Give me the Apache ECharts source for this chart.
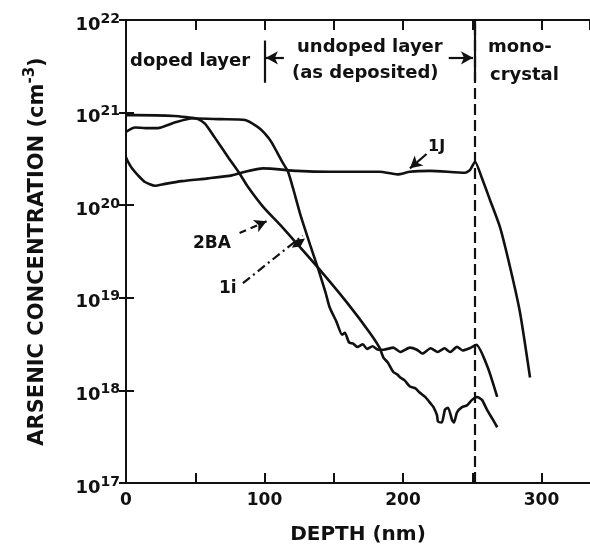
<!DOCTYPE html>
<html>
<head>
<meta charset="utf-8">
<script src="https://cdn.jsdelivr.net/npm/echarts@6/dist/echarts.min.js"></script>
<style>
  html, body { margin: 0; padding: 0; background: #fff; }
  #chart { width: 590px; height: 552px; }
</style>
</head>
<body>
<div id="chart"></div>
<script>
// depth (nm) / arsenic concentration (cm^-3)
var depth1J = [0, 1.4, 4.3, 8.7, 13.7, 20.9, 28.2, 40.4, 59.2, 76.5, 85.9, 98.9, 123.5, 147.3, 171, 183, 196, 205, 219.5, 244.8, 248.4, 252, 257, 262.8, 270, 277.3, 284.5, 291.7];
var conc1J = [3.3e20, 2.95e20, 2.5e20, 2.1e20, 1.78e20, 1.62e20, 1.7e20, 1.82e20, 1.95e20, 2.1e20, 2.3e20, 2.5e20, 2.35e20, 2.3e20, 2.3e20, 2.3e20, 2.15e20, 2.3e20, 2.35e20, 2.24e20, 2.4e20, 2.95e20, 1.95e20, 1.14e20, 5.8e19, 2.14e19, 6.9e18, 1.38e18];

var depth2BA = [0, 6.5, 14, 23, 35, 48, 52, 57, 64, 74, 82, 88, 99, 111, 123, 140, 160, 176, 183, 186, 189, 193, 196, 198, 201, 205, 209, 212, 216, 220, 222, 224.5, 225.3, 228, 230.3, 232.5, 235.4, 236.8, 239, 242.6, 246.2, 249.8, 253.4, 257, 260.6, 265, 268];
var conc2BA = [6.2e20, 6.9e20, 6.8e20, 6.8e20, 7.8e20, 8.7e20, 8.5e20, 7.6e20, 5.4e20, 3.25e20, 2.2e20, 1.58e20, 9.6e19, 6.2e19, 3.9e19, 2.0e19, 8.7e18, 4.2e18, 2.9e18, 2.24e18, 2.0e18, 1.58e18, 1.48e18, 1.38e18, 1.29e18, 1.1e18, 1.05e18, 9.5e17, 8.5e17, 7.2e17, 6.6e17, 5.4e17, 4.6e17, 4.5e17, 6.2e17, 6.5e17, 4.8e17, 4.5e17, 5.8e17, 6.6e17, 6.9e17, 7.9e17, 8.5e17, 7.9e17, 6.2e17, 4.8e17, 4.0e17];

var depth1i = [0, 6.5, 35, 50, 68, 86, 95, 100, 105, 113, 117, 121, 126, 133, 139, 144, 147, 152, 156, 158, 161, 164, 167, 171, 174, 178, 182, 186, 193, 198, 205, 210, 214, 220, 225, 230, 234, 239, 243, 248, 253, 261, 268];
var conc1i = [9.4e20, 9.4e20, 9.2e20, 8.7e20, 8.5e20, 8.3e20, 7.0e20, 6.0e20, 4.8e20, 2.9e20, 2.3e20, 1.45e20, 7.8e19, 3.7e19, 2.0e19, 1.15e19, 7.9e18, 5.5e18, 4.0e18, 4.2e18, 3.3e18, 3.2e18, 2.95e18, 3.15e18, 2.8e18, 3.0e18, 2.75e18, 2.75e18, 2.9e18, 2.6e18, 2.9e18, 2.75e18, 2.5e18, 2.85e18, 2.6e18, 2.85e18, 2.6e18, 2.95e18, 2.7e18, 2.85e18, 3.1e18, 1.8e18, 8.5e17];

var xTickLabels = [0, 100, 200, 300];
var yTickExps = [17, 18, 19, 20, 21, 22];
var interfaceDepth = 252; // dashed line: undoped layer / monocrystal

var ink = '#111';
var font = 'DejaVu Sans';

function pairs(xs, ys) {
  var out = [];
  for (var i = 0; i < xs.length; i++) out.push([xs[i], ys[i]]);
  return out;
}

function seg(a, b, endSymbol, style) {
  return [
    { coord: a, symbol: 'none' },
    { coord: b, symbol: endSymbol || 'none', lineStyle: style }
  ];
}

function label(text, x, y, size) {
  return {
    type: 'text', left: x, top: y,
    style: { text: text, font: 'bold ' + size + 'px ' + font, fill: ink }
  };
}

var lineBase = { width: 2.6, color: ink };
var solid = { type: 'solid', width: 2.2, color: ink };

var chart = echarts.init(document.getElementById('chart'));
var option = {
  backgroundColor: '#fff',
  animation: false,
  grid: { left: 126, top: 20, right: 0, bottom: 69 },
  xAxis: [{
    type: 'value', min: 0, max: 335, interval: 50,
    name: 'DEPTH (nm)', nameLocation: 'middle', nameGap: 42,
    nameTextStyle: { fontFamily: font, fontWeight: 'bold', fontSize: 20, color: ink },
    axisLine: { show: true, lineStyle: { color: ink, width: 2 } },
    axisTick: { show: true, inside: true, length: 10, lineStyle: { color: ink, width: 2 } },
    axisLabel: {
      margin: 9, fontFamily: font, fontWeight: 'bold', fontSize: 17, color: ink, showMaxLabel: false,
      formatter: function (v) { return xTickLabels.indexOf(v) >= 0 ? String(v) : ''; }
    },
    splitLine: { show: false }
  }, {
    type: 'value', min: 0, max: 335, interval: 50, position: 'top',
    axisLine: { show: true, lineStyle: { color: ink, width: 2 } },
    axisTick: { show: true, inside: true, length: 10, lineStyle: { color: ink, width: 2 } },
    axisLabel: { show: false },
    splitLine: { show: false }
  }],
  yAxis: [{
    type: 'log', logBase: 10, min: 1e17, max: 1e22,
    name: 'ARSENIC CONCENTRATION {s|(cm}{u|-3}{s|)}', nameLocation: 'middle', nameGap: 74, nameRotate: 90,
    nameTextStyle: {
      fontFamily: font, fontWeight: 'bold', fontSize: 21, color: ink,
      rich: {
        s: { fontFamily: font, fontWeight: 'bold', fontSize: 21, color: ink, lineHeight: 29 },
        u: { fontFamily: font, fontWeight: 'bold', fontSize: 15, color: ink, verticalAlign: 'top' }
      }
    },
    axisLine: { show: true, lineStyle: { color: ink, width: 2 } },
    axisTick: { show: true, inside: true, length: 8, lineStyle: { color: ink, width: 2 } },
    axisLabel: {
      margin: 6, padding: [10, 0, 0, 0], showMinLabel: true, showMaxLabel: true,
      formatter: function (v) {
        var e = Math.round(Math.log10(v));
        return yTickExps.indexOf(e) >= 0 ? '{b|10}{s|' + e + '}' : '';
      },
      rich: {
        b: { fontFamily: font, fontWeight: 'bold', fontSize: 18, color: ink, lineHeight: 26 },
        s: { fontFamily: font, fontWeight: 'bold', fontSize: 14, color: ink, verticalAlign: 'top' }
      }
    },
    splitLine: { show: false }
  }, {
    type: 'log', logBase: 10, min: 1e17, max: 1e22, position: 'right',
    axisLine: { show: false },
    axisTick: { show: true, inside: true, length: 7, lineStyle: { color: ink, width: 2 } },
    axisLabel: { show: false },
    splitLine: { show: false }
  }],
  series: [{
    name: '1J', type: 'line', showSymbol: false, smooth: 0.2, silent: true,
    lineStyle: lineBase,
    data: pairs(depth1J, conc1J),
    markLine: {
      silent: true, symbolSize: [10, 12], label: { show: false },
      lineStyle: solid,
      data: [
        // layer boundary at the doped/undoped interface
        seg([100, 6.0e21], [100, 2.1e21], 'none', solid),
        seg([114, 3.9e21], [101, 3.9e21], 'arrow', solid),
        seg([233, 3.9e21], [250.5, 3.9e21], 'arrow', solid),
        seg([interfaceDepth, 1e22], [interfaceDepth, 2.2e21], 'none', solid),
        // label pointers
        seg([217, 3.57e20], [205, 2.5e20], 'arrow', { type: 'solid', width: 2.2, color: ink }),
        seg([82, 5.0e19], [101.5, 6.7e19], 'arrow', { type: [7, 5], width: 2.2, color: ink }),
        seg([84.4, 1.44e19], [127.6, 4.7e19], 'none', { type: [9, 4, 2, 4], width: 2.2, color: ink })
      ]
    }
  }, {
    name: '2BA', type: 'line', showSymbol: false, smooth: 0.2, silent: true,
    lineStyle: lineBase,
    data: pairs(depth2BA, conc2BA),
    markLine: {
      silent: true, symbol: 'none', label: { show: false },
      lineStyle: { type: [11, 5], width: 2.2, color: ink },
      data: [{ xAxis: interfaceDepth }]
    }
  }, {
    name: '1i', type: 'line', showSymbol: false, smooth: 0.2, silent: true,
    lineStyle: lineBase,
    data: pairs(depth1i, conc1i),
    markPoint: {
      silent: true, symbol: 'diamond', symbolSize: [8, 16], symbolRotate: -55,
      itemStyle: { color: ink }, label: { show: false },
      data: [{ coord: [124.5, 3.9e19] }]
    }
  }],
  graphic: [
    label('doped layer', 130, 52, 18),
    label('undoped layer', 297, 38, 18),
    label('(as deposited)', 292, 64, 18),
    label('mono-', 488, 38, 18),
    label('crystal', 490, 66, 18),
    label('1J', 428, 139, 16),
    label('2BA', 193, 235, 17),
    label('1i', 219, 280, 17)
  ]
};
chart.setOption(option);
</script>
</body>
</html>
